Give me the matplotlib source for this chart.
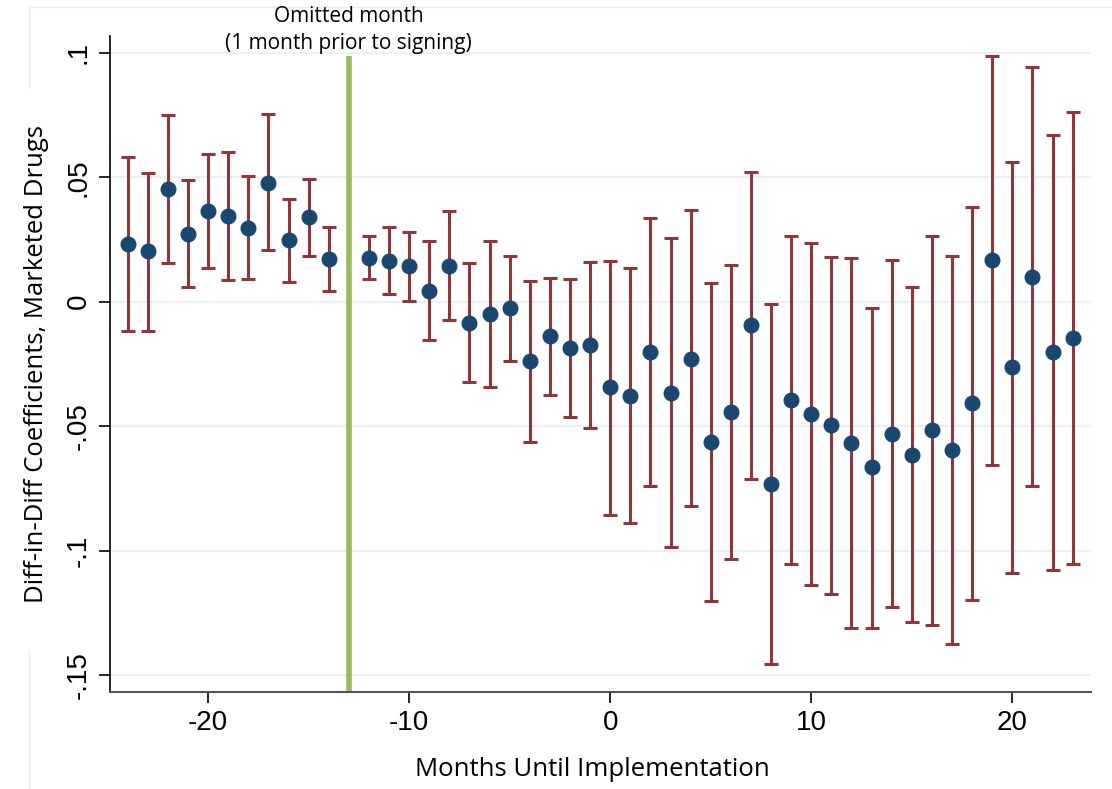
import matplotlib
matplotlib.use("Agg")
import matplotlib.pyplot as plt
from matplotlib.lines import Line2D
import matplotlib.transforms as mtransforms

# event-study estimates, month -13 omitted (reference month)
months = [-24, -23, -22, -21, -20, -19, -18, -17, -16, -15, -14,
          -12, -11, -10, -9, -8, -7, -6, -5, -4, -3, -2, -1,
          0, 1, 2, 3, 4, 5, 6, 7, 8, 9, 10, 11,
          12, 13, 14, 15, 16, 17, 18, 19, 20, 21, 22, 23]
coef = [0.0231, 0.0202, 0.0453, 0.0273, 0.0364, 0.0343, 0.0295, 0.0478, 0.0247, 0.0339, 0.0171,
        0.0177, 0.0163, 0.0143, 0.0044, 0.0145, -0.0084, -0.0048, -0.0027, -0.0239, -0.0136, -0.0187, -0.0175,
        -0.0344, -0.0380, -0.0201, -0.0365, -0.0229, -0.0563, -0.0443, -0.0094, -0.0730, -0.0393, -0.0451, -0.0496,
        -0.0566, -0.0664, -0.0530, -0.0615, -0.0517, -0.0594, -0.0407, 0.0166, -0.0264, 0.0100, -0.0203, -0.0146]
ci_hi = [0.0582, 0.0518, 0.0750, 0.0489, 0.0594, 0.0601, 0.0506, 0.0754, 0.0412, 0.0493, 0.0299,
         0.0265, 0.0299, 0.0281, 0.0244, 0.0365, 0.0155, 0.0244, 0.0184, 0.0084, 0.0097, 0.0090, 0.0159,
         0.0163, 0.0134, 0.0335, 0.0255, 0.0367, 0.0076, 0.0147, 0.0522, -0.0008, 0.0262, 0.0235, 0.0179,
         0.0176, -0.0026, 0.0166, 0.0059, 0.0264, 0.0184, 0.0381, 0.0988, 0.0560, 0.0942, 0.0668, 0.0761]
ci_lo = [-0.0118, -0.0118, 0.0155, 0.0058, 0.0135, 0.0087, 0.0090, 0.0206, 0.0078, 0.0182, 0.0044,
         0.0090, 0.0030, 0.0003, -0.0155, -0.0073, -0.0324, -0.0343, -0.0239, -0.0562, -0.0375, -0.0464, -0.0509,
         -0.0857, -0.0890, -0.0741, -0.0984, -0.0822, -0.1201, -0.1033, -0.0711, -0.1454, -0.1055, -0.1139, -0.1175,
         -0.1309, -0.1310, -0.1226, -0.1288, -0.1300, -0.1376, -0.1199, -0.0654, -0.1090, -0.0742, -0.1077, -0.1055]

omitted = -13
yticks = [0.1, 0.05, 0, -0.05, -0.1, -0.15]
ytick_labels = [".1", ".05", "0", "-.05", "-.1", "-.15"]
xticks = [-20, -10, 0, 10, 20]

navy = "#1a476f"
maroon = "#90353b"
green = "#9bbb59"
grid_col = "#eaf2f3"

W, H = 1112, 789
fig = plt.figure(figsize=(W / 100, H / 100), dpi=100)
ax = fig.add_axes([110 / W, 1 - 691.7 / H, (1090.7 - 110) / W, (691.7 - 36) / H])

# faint outer frame (stata graph region), left edge broken by the y title
def px(x, y):
    return x / W, 1 - y / H

frame = [((29, 7), (W + 5, 7)), ((29, 7), (29, 88)), ((29, 650), (29, H + 5))]
for a, b in frame:
    (x0, y0), (x1, y1) = px(*a), px(*b)
    fig.add_artist(Line2D([x0, x1], [y0, y1], transform=fig.transFigure,
                          color="#ececec", lw=1, zorder=0))

err_lo = [c - l for c, l in zip(coef, ci_lo)]
err_hi = [h - c for c, h in zip(coef, ci_hi)]
ax.errorbar(months, coef, yerr=[err_lo, err_hi], fmt="none", ecolor=maroon,
            elinewidth=2.2, capsize=5, capthick=2.2, zorder=3)
ax.plot(months, coef, "o", color=navy, markersize=10.5, zorder=4)

ax.vlines(omitted, -0.16, 0.0987, color=green, lw=4, zorder=2)

ax.set_xlim(-24.88, 23.9)
ax.set_ylim(-0.1566, 0.1067)
ax.set_yticks(yticks)
ax.set_yticklabels(ytick_labels, rotation=90, va="center",
                   family="Liberation Sans", fontsize=20)
ax.set_xticks(xticks)
ax.set_xticklabels([str(t) for t in xticks], family="Liberation Sans", fontsize=20)
ax.tick_params(axis="both", direction="out", length=8, width=1.2, pad=5)
ax.grid(axis="y", color=grid_col, lw=1.6, zorder=0)
ax.set_axisbelow(True)

for side in ["top", "right"]:
    ax.spines[side].set_visible(False)
ax.spines["left"].set_color("black")
ax.spines["bottom"].set_color("#555555")
ax.spines["left"].set_linewidth(1.2)
ax.spines["bottom"].set_linewidth(1.5)

ax.set_xlabel("Months Until Implementation", family="Open Sans", fontsize=18.5)
ax.xaxis.set_label_coords(482 / (1090.7 - 110), -0.10)
ax.set_ylabel("Diff-in-Diff Coefficients, Marketed Drugs", family="Open Sans", fontsize=18.5,
              labelpad=12)

trans = mtransforms.blended_transform_factory(ax.transData, fig.transFigure)
fig.text(omitted, 1 - 30 / H, "Omitted month\n(1 month prior to signing)", transform=trans,
         ha="center", va="center", family="Open Sans", fontsize=15, linespacing=1.35)

fig.savefig("out.png", dpi=100)
